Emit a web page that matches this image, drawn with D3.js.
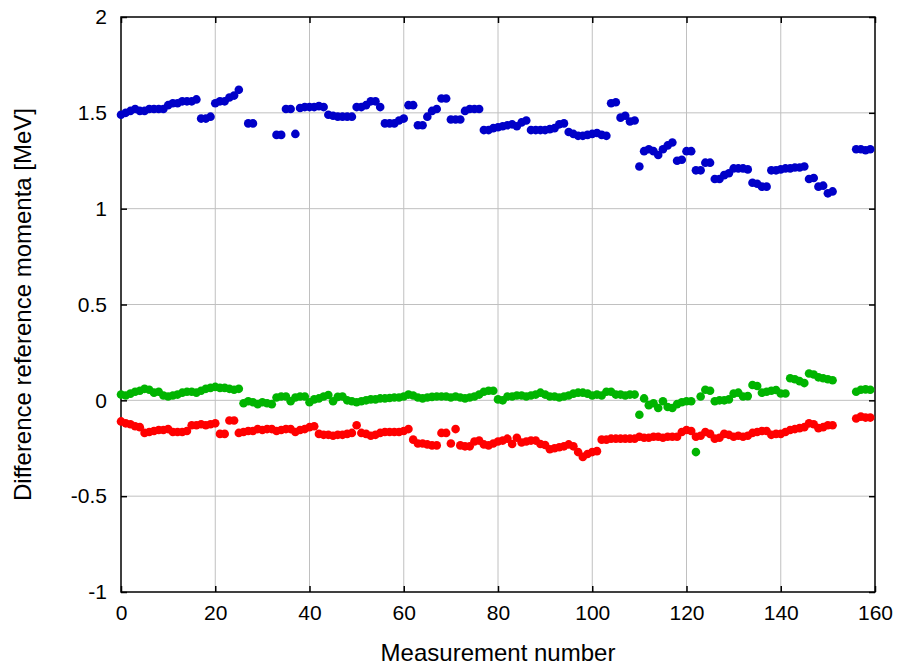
<!DOCTYPE html>
<html>
<head>
<meta charset="utf-8">
<script src="https://cdn.jsdelivr.net/npm/d3@7"></script>
<style>
  body { margin: 0; background: #fff; }
  svg { font-family: "Liberation Sans", Arial, sans-serif; }
  .grid line { stroke: #c0c0c0; stroke-width: 1; }
  .tick text { font-size: 21px; fill: #000; }
</style>
</head>
<body>
<svg id="chart" width="901" height="666"></svg>
<script>
// measurement numbers 0..159; null = no measurement for that series
const blueValues = [
  1.49, 1.50, 1.51, 1.52, 1.51, 1.51, 1.52, 1.52, 1.52, 1.52,
  1.54, 1.55, 1.55, 1.56, 1.56, 1.56, 1.57, 1.47, 1.47, 1.48,
  1.55, 1.56, 1.56, 1.58, 1.59, 1.62, null, 1.445, 1.445, null,
  null, null, null, 1.385, 1.385, 1.52, 1.52, 1.39, 1.525, 1.53,
  1.53, 1.53, 1.535, 1.53, 1.49, 1.485, 1.48, 1.48, 1.48, 1.48,
  1.53, 1.53, 1.54, 1.56, 1.56, 1.53, 1.445, 1.445, 1.445, 1.46,
  1.47, 1.54, 1.54, 1.435, 1.435, 1.48, 1.51, 1.52, 1.575, 1.575,
  1.465, 1.465, 1.465, 1.51, 1.52, 1.52, 1.52, 1.41, 1.41, 1.42,
  1.425, 1.43, 1.435, 1.44, 1.43, 1.45, 1.46, 1.41, 1.41, 1.41,
  1.41, 1.415, 1.42, 1.44, 1.445, 1.40, 1.39, 1.38, 1.38, 1.385,
  1.39, 1.395, 1.385, 1.38, 1.55, 1.555, 1.475, 1.485, 1.455, 1.46,
  1.22, 1.30, 1.31, 1.30, 1.28, 1.31, 1.33, 1.345, 1.25, 1.255,
  1.30, 1.30, 1.20, 1.20, 1.24, 1.24, 1.155, 1.155, 1.175, 1.185,
  1.21, 1.21, 1.21, 1.205, 1.135, 1.13, 1.115, 1.115, 1.20, 1.20,
  1.205, 1.21, 1.21, 1.215, 1.215, 1.22, 1.155, 1.16, 1.115, 1.12,
  1.08, 1.09, null, null, null, null, 1.31, 1.31, 1.305, 1.31
];
const greenValues = [
  0.03, 0.025, 0.035, 0.045, 0.05, 0.06, 0.055, 0.04, 0.045, 0.025,
  0.02, 0.025, 0.03, 0.04, 0.045, 0.045, 0.04, 0.05, 0.06, 0.065,
  0.07, 0.065, 0.065, 0.06, 0.055, 0.06, -0.015, -0.005, -0.01, -0.02,
  -0.01, -0.015, -0.02, 0.015, 0.02, 0.02, -0.005, 0.015, 0.02, 0.02,
  -0.01, 0.005, 0.01, 0.02, 0.028, -0.005, 0.018, 0.02, 0.0, -0.005,
  -0.01, -0.005, 0.0, 0.005, 0.005, 0.01, 0.01, 0.012, 0.015, 0.015,
  0.02, 0.03, 0.025, 0.015, 0.01, 0.015, 0.018, 0.02, 0.02, 0.02,
  0.015, 0.02, 0.015, 0.01, 0.015, 0.02, 0.03, 0.045, 0.05, 0.05,
  0.005, 0.0, 0.02, 0.02, 0.025, 0.025, 0.02, 0.025, 0.03, 0.04,
  0.03, 0.02, 0.02, 0.015, 0.02, 0.025, 0.035, 0.04, 0.04, 0.035,
  0.025, 0.03, 0.025, 0.045, 0.045, 0.03, 0.03, 0.025, 0.03, 0.03,
  -0.075, 0.01, -0.025, -0.015, -0.04, -0.005, -0.035, -0.04, -0.02, -0.01,
  -0.005, -0.005, -0.27, 0.02, 0.055, 0.05, -0.005, 0.0, 0.0, 0.005,
  0.035, 0.04, 0.02, 0.022, 0.08, 0.075, 0.04, 0.045, 0.05, 0.054,
  0.036, 0.036, 0.115, 0.11, 0.10, 0.09, 0.14, 0.135, 0.12, 0.115,
  0.11, 0.105, null, null, null, null, 0.045, 0.055, 0.057, 0.055
];
const redValues = [
  -0.11, -0.12, -0.125, -0.135, -0.14, -0.17, -0.165, -0.16, -0.155, -0.155,
  -0.15, -0.165, -0.165, -0.165, -0.16, -0.13, -0.13, -0.125, -0.13, -0.125,
  -0.12, -0.175, -0.175, -0.105, -0.105, -0.17, -0.165, -0.16, -0.16, -0.15,
  -0.155, -0.15, -0.15, -0.16, -0.155, -0.15, -0.15, -0.165, -0.155, -0.15,
  -0.14, -0.135, -0.175, -0.18, -0.18, -0.185, -0.18, -0.18, -0.175, -0.17,
  -0.13, -0.17, -0.175, -0.185, -0.18, -0.17, -0.165, -0.165, -0.165, -0.165,
  -0.16, -0.15, -0.205, -0.225, -0.225, -0.23, -0.235, -0.235, -0.17, -0.17,
  -0.225, -0.15, -0.235, -0.24, -0.24, -0.215, -0.21, -0.23, -0.235, -0.225,
  -0.215, -0.21, -0.20, -0.228, -0.195, -0.22, -0.215, -0.21, -0.21, -0.228,
  -0.233, -0.255, -0.25, -0.245, -0.24, -0.23, -0.24, -0.27, -0.295, -0.28,
  -0.27, -0.265, -0.205, -0.205, -0.20, -0.20, -0.20, -0.20, -0.20, -0.20,
  -0.19, -0.195, -0.195, -0.19, -0.19, -0.195, -0.19, -0.19, -0.19, -0.165,
  -0.155, -0.16, -0.19, -0.185, -0.165, -0.175, -0.20, -0.195, -0.175, -0.18,
  -0.19, -0.185, -0.19, -0.185, -0.17, -0.165, -0.16, -0.16, -0.18, -0.175,
  -0.175, -0.165, -0.155, -0.15, -0.145, -0.14, -0.12, -0.125, -0.145, -0.14,
  -0.13, -0.13, null, null, null, null, -0.095, -0.085, -0.09, -0.09
];

const xTicks = [0, 20, 40, 60, 80, 100, 120, 140, 160];
const yTicks = [-1, -0.5, 0, 0.5, 1, 1.5, 2];
const series = [
  { name: "red", color: "#ff0000", values: redValues },
  { name: "green", color: "#00b400", values: greenValues },
  { name: "blue", color: "#0000c8", values: blueValues }
];

const margin = { left: 121, top: 17, right: 26, bottom: 74 };
const svg = d3.select("#chart");
const width = +svg.attr("width") - margin.left - margin.right;
const height = +svg.attr("height") - margin.top - margin.bottom;

const x = d3.scaleLinear().domain([0, 160]).range([0, width]);
const y = d3.scaleLinear().domain([-1, 2]).range([height, 0]);

const chart = svg.append("g")
  .attr("transform", "translate(" + margin.left + "," + margin.top + ")");

// grid
chart.append("g").attr("class", "grid")
  .selectAll("line").data(xTicks.slice(1, -1)).join("line")
  .attr("x1", d => x(d)).attr("x2", d => x(d))
  .attr("y1", 0).attr("y2", height);
chart.append("g").attr("class", "grid")
  .selectAll("line").data(yTicks.slice(1, -1)).join("line")
  .attr("x1", 0).attr("x2", width)
  .attr("y1", d => y(d)).attr("y2", d => y(d));

// axes with inward ticks on all four sides
const fmt = d => String(d);
chart.append("g")
  .attr("transform", "translate(0," + height + ")")
  .call(d3.axisBottom(x).tickValues(xTicks).tickFormat(fmt).tickSizeInner(-6).tickSizeOuter(0).tickPadding(13));
chart.append("g")
  .call(d3.axisTop(x).tickValues(xTicks).tickFormat("").tickSizeInner(-6).tickSizeOuter(0));
chart.append("g")
  .call(d3.axisLeft(y).tickValues(yTicks).tickFormat(fmt).tickSizeInner(-6).tickSizeOuter(0).tickPadding(14));
chart.append("g")
  .attr("transform", "translate(" + width + ",0)")
  .call(d3.axisRight(y).tickValues(yTicks).tickFormat("").tickSizeInner(-6).tickSizeOuter(0));

chart.selectAll(".domain").remove();
chart.selectAll(".tick line").attr("stroke", "#000").attr("stroke-width", 1.5);
chart.selectAll(".tick text").attr("font-family", null).attr("font-size", null);

chart.append("rect")
  .attr("width", width).attr("height", height)
  .attr("fill", "none").attr("stroke", "#000").attr("stroke-width", 1.5);

// points
series.forEach(s => {
  chart.append("g")
    .attr("fill", s.color)
    .selectAll("circle")
    .data(s.values.map((v, i) => ({ i: i, v: v })).filter(d => d.v !== null))
    .join("circle")
    .attr("cx", d => x(d.i))
    .attr("cy", d => y(d.v))
    .attr("r", 4.3);
});

// labels
svg.append("text")
  .attr("x", margin.left + width / 2)
  .attr("y", 661)
  .attr("text-anchor", "middle")
  .attr("font-size", 24)
  .text("Measurement number");

svg.append("text")
  .attr("transform", "translate(31," + (margin.top + height / 2) + ") rotate(-90)")
  .attr("text-anchor", "middle")
  .attr("font-size", 24)
  .text("Difference reference momenta [MeV]");
</script>
</body>
</html>
